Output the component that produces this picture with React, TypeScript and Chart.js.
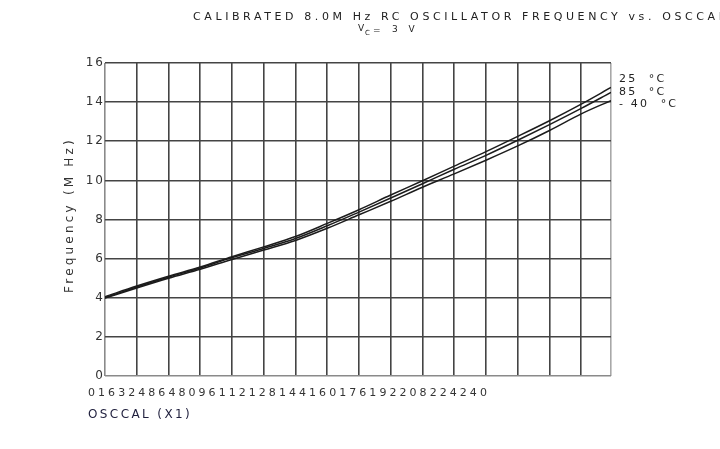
import React, { useEffect, useRef } from "react";
import { Chart, registerables } from "chart.js";

Chart.register(...registerables);

const titleText = "CALIBRATED 8.0M Hz RC OSCILLATOR FREQUENCY vs. OSCCAL";
const osccal = [0, 16, 32, 48, 64, 80, 96, 112, 128, 144, 160, 176, 192, 208, 224, 240, 255];
const freq25 = [4.05, 4.6, 5.1, 5.57, 6.1, 6.6, 7.13, 7.8, 8.5, 9.25, 9.98, 10.73, 11.47, 12.25, 13.05, 13.9, 14.75];
const freq85 = [4.0, 4.55, 5.05, 5.52, 6.05, 6.52, 7.03, 7.68, 8.38, 9.1, 9.83, 10.57, 11.28, 12.05, 12.85, 13.68, 14.5];
const freqM40 = [3.98, 4.5, 5.0, 5.46, 5.96, 6.44, 6.93, 7.55, 8.24, 8.93, 9.65, 10.33, 11.03, 11.76, 12.55, 13.4, 14.08];
const seriesLabels = ["25  °C", "85  °C", "- 40  °C"];
const xTickValues = [0, 16, 32, 48, 64, 80, 96, 112, 128, 144, 160, 176, 192, 208, 224, 240];
const yTickValues = [0, 2, 4, 6, 8, 10, 12, 14, 16];

const textPlugin = {
  id: "texts",
  afterDraw(chart: any) {
    const ctx = chart.ctx as CanvasRenderingContext2D;
    const xs = chart.scales.x;
    const ys = chart.scales.y;
    const area = chart.chartArea;
    ctx.save();
    const font = '"DejaVu Sans", Verdana, sans-serif';
    // title
    ctx.fillStyle = "#222";
    ctx.font = `11px ${font}`;
    (ctx as any).letterSpacing = "3.6px";
    ctx.textAlign = "left";
    ctx.textBaseline = "middle";
    ctx.fillText(titleText, 193, 17);
    // subtitle V_CC = 3V
    (ctx as any).letterSpacing = "0px";
    ctx.font = `9px ${font}`;
    ctx.fillText("V", 358, 29);
    ctx.font = `7px ${font}`;
    ctx.fillText("C", 365, 33);
    ctx.font = `9px ${font}`;
    ctx.fillText("=", 373, 31);
    (ctx as any).letterSpacing = "4px";
    ctx.fillText("3 V", 392, 30);
    // y tick labels
    ctx.fillStyle = "#333";
    ctx.font = `12px ${font}`;
    (ctx as any).letterSpacing = "2px";
    ctx.textAlign = "right";
    yTickValues.forEach((v) => {
      ctx.fillText(String(v), area.left, ys.getPixelForValue(v));
    });
    // x tick labels (compressed)
    ctx.textAlign = "left";
    ctx.font = `11px ${font}`;
    (ctx as any).letterSpacing = "3.05px";
    ctx.fillText(xTickValues.join(""), xs.getPixelForValue(0) - 17, 393);
    // x axis title
    ctx.fillStyle = "#1e1e3c";
    ctx.font = `12px ${font}`;
    (ctx as any).letterSpacing = "2.4px";
    ctx.fillText("OSCCAL (X1)", 88, 415);
    // y axis title
    ctx.save();
    ctx.fillStyle = "#333";
    ctx.translate(70, 215);
    ctx.rotate(-Math.PI / 2);
    ctx.textAlign = "center";
    ctx.font = `12px ${font}`;
    (ctx as any).letterSpacing = "3.2px";
    ctx.fillText("Frequency (M Hz)", 0, 0);
    ctx.restore();
    // legend labels
    ctx.fillStyle = "#222";
    ctx.font = `11px ${font}`;
    (ctx as any).letterSpacing = "2.2px";
    ctx.textAlign = "left";
    const ly = [79, 92, 104];
    seriesLabels.forEach((s, i) => ctx.fillText(s, 619, ly[i]));
    ctx.restore();
  },
};

export default function App() {
  const ref = useRef<HTMLCanvasElement>(null);
  useEffect(() => {
    const toPts = (arr: number[]) => osccal.map((x, i) => ({ x, y: arr[i] }));
    const ds = (label: string, arr: number[]) => ({
      label,
      data: toPts(arr),
      borderColor: "#1c1c1c",
      borderWidth: 1.5,
      pointRadius: 0,
      cubicInterpolationMode: "monotone" as const,
      fill: false,
    });
    const chart = new Chart(ref.current!, {
      type: "line",
      data: {
        datasets: [ds("25 °C", freq25), ds("85 °C", freq85), ds("-40 °C", freqM40)],
      },
      options: {
        animation: false,
        responsive: false,
        devicePixelRatio: 1,
        layout: { padding: { left: 105, top: 63, right: 109, bottom: 73 } },
        plugins: { legend: { display: false }, tooltip: { enabled: false }, title: { display: false } },
        scales: {
          x: {
            type: "linear",
            min: 0,
            max: 255,
            afterBuildTicks: (s: any) => {
              s.ticks = [...xTickValues, 255].map((v) => ({ value: v }));
            },
            afterFit: (s: any) => {
              s.height = 0;
            },
            ticks: { display: false },
            border: { display: false },
            grid: {
              drawTicks: false,
              lineWidth: 1.6,
              color: (c: any) => (c.tick && c.tick.value === 255 ? "#a8a8a8" : c.tick && c.tick.value === 0 ? "#8a8a8a" : "#444"),
            },
          },
          y: {
            type: "linear",
            min: 0,
            max: 16,
            afterBuildTicks: (s: any) => {
              s.ticks = yTickValues.map((v) => ({ value: v }));
            },
            afterFit: (s: any) => {
              s.width = 0;
            },
            ticks: { display: false },
            border: { display: false },
            grid: {
              drawTicks: false,
              lineWidth: 1.6,
              color: (c: any) => (c.tick && c.tick.value === 0 ? "#8a8a8a" : "#444"),
            },
          },
        },
      },
      plugins: [textPlugin],
    });
    return () => chart.destroy();
  }, []);
  return (
    <div style={{ position: "absolute", left: 0, top: 0, width: 720, height: 449, background: "#fff" }}>
      <canvas ref={ref} width={720} height={449} style={{ width: 720, height: 449 }} />
    </div>
  );
}
